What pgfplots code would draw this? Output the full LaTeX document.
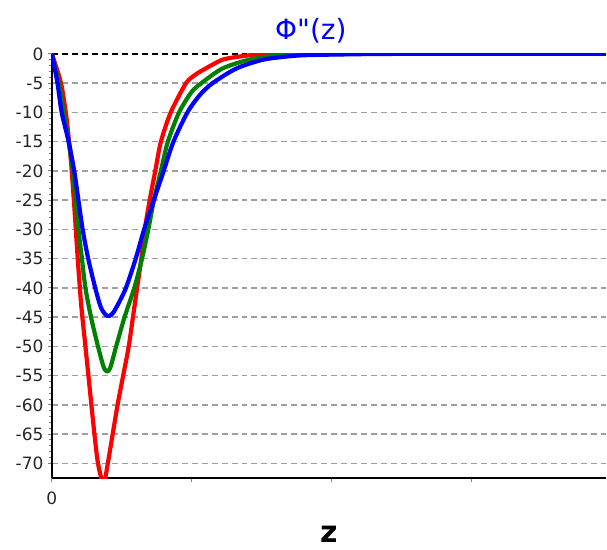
\documentclass[border=0pt]{standalone}
\usepackage{pgfplots}
\pgfplotsset{compat=1.18}
\usepackage{fontspec}
\setmainfont{DejaVu Sans}
\newfontfamily\titlefont{DejaVu Sans}
\begin{document}
\begin{tikzpicture}
\begin{axis}[
 name=ax,
 scale only axis, width=555pt, height=425pt,
 xmin=0, xmax=3.964, ymin=-72.5, ymax=0,
 axis x line*=bottom, axis y line*=left,
 axis line style={line width=2.5pt, black, -},
 xtick={0,1,2,3}, xticklabels={0,{},{},{}},
 ytick={-70,-65,...,0},
 minor y tick num=4,
 tick align=outside,
 major tick length=4pt, minor tick length=2.5pt,
 tick style={gray, line width=1pt},
 ymajorgrids,
 grid style={gray!75, line width=1.3pt, dash pattern=on 6pt off 4pt},
 extra y ticks={0}, extra y tick labels={},
 extra y tick style={grid style={black, line width=1.5pt, dash pattern=on 6pt off 4pt}},
 ticklabel style={font=\fontsize{17}{17}\selectfont, text=black!85},
 y tick label style={xshift=-1pt},
 x tick label style={yshift=-6pt},
 /pgf/number format/assume math mode=true,
 title={\titlefont Φ"(z)},
 title style={font=\fontsize{28}{28}\selectfont, text=blue, yshift=1pt, xshift=-18pt},
 xlabel={z},
 xlabel style={font=\fontsize{30}{30}\selectfont\bfseries, inner sep=1pt, text depth=0pt, yshift=-17pt},
 every axis plot/.append style={line width=4.2pt, line join=round, smooth, tension=0.45},
]
\addplot[red] coordinates {
(0,0) (0.065,-5) (0.105,-11) (0.135,-18) (0.16,-26) (0.185,-35) (0.21,-43)
(0.24,-50) (0.27,-57) (0.3,-64) (0.33,-70) (0.37,-73.5) (0.40,-70) (0.435,-65)
(0.47,-60) (0.51,-55) (0.55,-50) (0.58,-45) (0.61,-40) (0.64,-35) (0.665,-30)
(0.70,-25) (0.74,-20) (0.775,-15.5) (0.815,-12.3) (0.86,-9.5) (0.96,-5)
(1.03,-3.5) (1.1,-2.5) (1.22,-1) (1.33,-0.5) (1.44,-0.2) (1.7,-0.05) (2.0,0) (3.964,0)};
\addplot[green!50!black] coordinates {
(0,0) (0.05,-5) (0.085,-10) (0.12,-15) (0.15,-20) (0.17,-25) (0.19,-30)
(0.215,-35) (0.24,-40) (0.28,-45) (0.33,-50) (0.37,-53.5) (0.395,-54.3) (0.42,-53.5)
(0.46,-50) (0.52,-45) (0.59,-40) (0.645,-35) (0.69,-30) (0.73,-25) (0.78,-20)
(0.83,-15) (0.91,-10) (1.0,-6.5) (1.07,-5) (1.22,-2.5) (1.41,-1) (1.6,-0.3)
(1.9,-0.05) (2.2,0) (3.964,0)};
\addplot[blue] coordinates {
(0,0) (0.04,-5) (0.07,-10) (0.12,-15) (0.16,-20) (0.19,-25) (0.22,-30)
(0.26,-35) (0.31,-40) (0.35,-43.3) (0.385,-44.6) (0.41,-44.8) (0.44,-44.2) (0.48,-42.5)
(0.53,-40) (0.6,-35) (0.66,-30) (0.73,-25) (0.8,-20) (0.87,-15) (0.97,-10)
(1.06,-7) (1.15,-5) (1.32,-2.5) (1.51,-1) (1.7,-0.4) (1.84,-0.2) (2.2,-0.05)
(2.5,0) (3.964,0)};
\end{axis}
\path[use as bounding box] ([shift={(-52pt,-72pt)}]ax.south west) rectangle ([shift={(0pt,54pt)}]ax.north east);
\end{tikzpicture}
\end{document}
